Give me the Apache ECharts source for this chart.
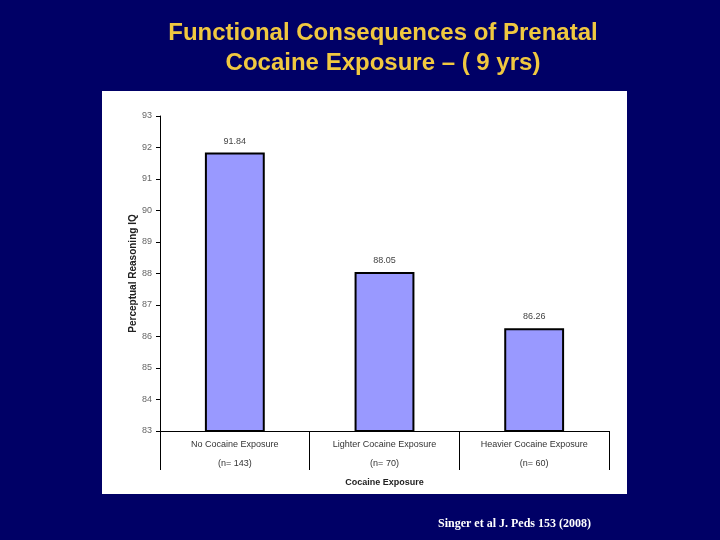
<!DOCTYPE html>
<html>
<head>
<meta charset="utf-8">
<script src="https://cdn.jsdelivr.net/npm/echarts@6/dist/echarts.min.js"></script>
<style>
html,body{margin:0;padding:0;background:#000066;}
#chart{width:720px;height:540px;}
</style>
</head>
<body>
<div id="chart"></div>
<script>
const categories = ['No Cocaine Exposure', 'Lighter Cocaine Exposure', 'Heavier Cocaine Exposure'];
const sampleSizes = ['(n= 143)', '(n= 70)', '(n= 60)'];
const iqValues = [91.84, 88.05, 86.26];
const yTicks = { min: 83, max: 93, interval: 1 };

const chart = echarts.init(document.getElementById('chart'));
const labels = categories.map((c, i) => c + '\n' + sampleSizes[i]);
const FONT = 'Liberation Sans, Arial, sans-serif';

chart.setOption({
  backgroundColor: '#000066',
  animation: false,
  graphic: [
    {
      type: 'rect',
      shape: { x: 102, y: 91, width: 525, height: 403 },
      style: { fill: '#ffffff' },
      z: -10
    },
    {
      type: 'text',
      x: 383,
      y: 33,
      style: {
        text: 'Functional Consequences of Prenatal',
        fill: '#F0C840',
        font: 'bold 24px ' + FONT,
        align: 'center',
        verticalAlign: 'middle'
      }
    },
    {
      type: 'text',
      x: 383,
      y: 63,
      style: {
        text: 'Cocaine Exposure – ( 9 yrs)',
        fill: '#F0C840',
        font: 'bold 24px ' + FONT,
        align: 'center',
        verticalAlign: 'middle'
      }
    },
    {
      type: 'text',
      x: 438,
      y: 524,
      style: {
        text: 'Singer et al J. Peds 153 (2008)',
        fill: '#ffffff',
        font: 'bold 12px "Liberation Serif", "Times New Roman", serif',
        verticalAlign: 'middle'
      }
    }
  ],
  grid: { left: 160, right: 111, top: 116, bottom: 109, containLabel: false },
  xAxis: {
    type: 'category',
    data: labels,
    name: 'Cocaine Exposure',
    nameLocation: 'middle',
    nameGap: 46,
    nameTextStyle: { color: '#222', fontSize: 9, fontWeight: 'bold', fontFamily: FONT },
    axisLine: { lineStyle: { color: '#000', width: 1 } },
    axisTick: { show: true, length: 39, interval: 0, lineStyle: { color: '#000' } },
    axisLabel: {
      color: '#333', fontSize: 9, lineHeight: 19, margin: 4,
      fontFamily: FONT, interval: 0
    }
  },
  yAxis: {
    type: 'value',
    min: yTicks.min,
    max: yTicks.max,
    interval: yTicks.interval,
    name: 'Perceptual Reasoning IQ',
    nameLocation: 'middle',
    nameGap: 22,
    nameMoveOverlap: false,
    nameTextStyle: { color: '#222', fontSize: 10, fontWeight: 'bold', fontFamily: FONT },
    axisLine: { show: true, lineStyle: { color: '#000', width: 1 } },
    axisTick: { show: true, length: 4, lineStyle: { color: '#000' } },
    splitLine: { show: false },
    axisLabel: { color: '#666', fontSize: 9, margin: 8, fontFamily: FONT }
  },
  series: [{
    type: 'bar',
    data: iqValues,
    barWidth: '40%',
    itemStyle: { color: '#9999FF', borderColor: '#000', borderWidth: 2 },
    label: {
      show: true, position: 'top', distance: 7,
      color: '#444', fontSize: 9, fontFamily: FONT,
      formatter: p => p.value.toFixed(2)
    }
  }]
});
</script>
</body>
</html>
